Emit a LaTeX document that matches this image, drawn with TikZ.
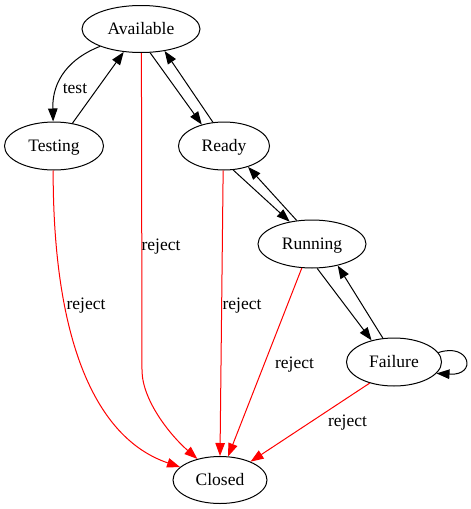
\documentclass[tikz,border=0pt]{standalone}
\usepackage{fontspec}
\setmainfont{Liberation Serif}
\usetikzlibrary{shapes.geometric,arrows.meta}
\begin{document}
\begin{tikzpicture}[x=1pt,y=-1pt,
  txt/.style={font=\fontsize{17.5}{20}\selectfont,text height=12.5pt,text depth=2pt},
  state/.style={draw,ellipse,inner sep=0pt,minimum height=48pt,line width=1pt,txt},
  edge/.style={draw,line width=1pt,-{Triangle[length=13pt,width=9.5pt]}},
  rej/.style={edge,red},
  lab/.style={txt,inner sep=0pt}]
\useasboundingbox (0,0) rectangle (471,509);
\node[state,minimum width=118pt,minimum height=47pt] (av) at (141,29) {Available};
\node[state,minimum width=99pt] (te) at (54,146) {Testing};
\node[state,minimum width=91pt] (re) at (224,146) {Ready};
\node[state,minimum width=108pt] (ru) at (312,244) {Running};
\node[state,minimum width=95pt] (fa) at (394,362) {Failure};
\node[state,minimum width=94pt,minimum height=47pt] (cl) at (220,480) {Closed};
% black edges
\draw[edge] (av.-157) .. controls (70,58) and (52,80) .. (te.92);
\draw[edge] (te.51) -- (av.233.5);
\draw[edge] (av.-69.4) -- (re.136.5);
\draw[edge] (re.115.3) -- (av.-43.8);
\draw[edge] (re.-69) -- (ru.135);
\draw[edge] (ru.123) -- (re.-41.8);
\draw[edge] (ru.-78) -- (fa.136);
\draw[edge] (fa.115) -- (ru.-40);
\draw[edge] (fa.12) .. controls (470,342) and (478,376) .. (fa.-15.6);
% red edges
\coordinate (avbend) at (142,370);
\draw[rej] (av.-89) -- (avbend) .. controls (142,400) and (170,435) .. (cl.137.7);
\draw[rej] (te.-92) .. controls (53,350) and (100,440) .. (cl.162.5);
\draw[rej] (re.-92) -- (cl.90);
\draw[rej] (ru.-113) -- (cl.71);
\draw[rej] (fa.-139) -- (cl.31.7);
% labels
\node[lab] (ltest) at (75,88.5) {test};
\node[lab] (l1) at (161,245) {reject};
\node[lab] (l2) at (86,304) {reject};
\node[lab] (l3) at (242,304) {reject};
\node[lab] (l4) at (294.5,363) {reject};
\node[lab] (l5) at (347.5,421) {reject};
\end{tikzpicture}
\end{document}
